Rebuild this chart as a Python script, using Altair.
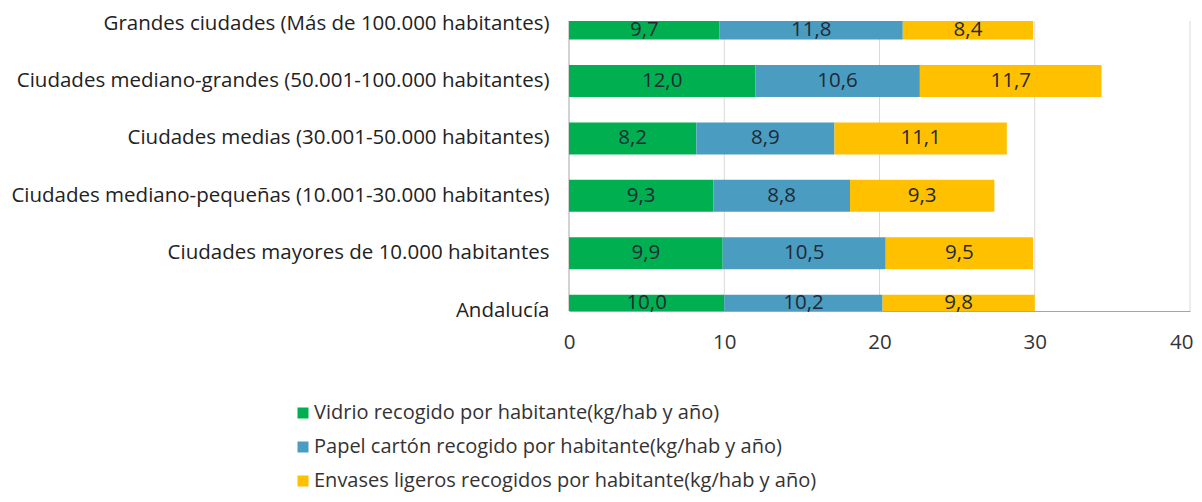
import altair as alt
import pandas as pd

categories = [
    "Grandes ciudades (Más de 100.000 habitantes)",
    "Ciudades mediano-grandes (50.001-100.000 habitantes)",
    "Ciudades medias (30.001-50.000 habitantes)",
    "Ciudades mediano-pequeñas (10.001-30.000 habitantes)",
    "Ciudades mayores de 10.000 habitantes",
    "Andalucía",
]
series = [
    "Vidrio recogido por habitante(kg/hab y año)",
    "Papel cartón recogido por habitante(kg/hab y año)",
    "Envases ligeros recogidos por habitante(kg/hab y año)",
]
vidrio = [9.7, 12.0, 8.2, 9.3, 9.9, 10.0]
papel = [11.8, 10.6, 8.9, 8.8, 10.5, 10.2]
envases = [8.4, 11.7, 11.1, 9.3, 9.5, 9.8]
colors = ["#00B050", "#4B9CC1", "#FFC000"]
x_ticks = [0, 10, 20, 30, 40]

rows = []
for s_i, (s, vals) in enumerate(zip(series, [vidrio, papel, envases])):
    for c_i, (c, v) in enumerate(zip(categories, vals)):
        rows.append({"cat": c, "ci": c_i, "serie": s, "val": v, "ord": s_i,
                     "lab": f"{v:.1f}".replace(".", ",")})
df = pd.DataFrame(rows)
grid_df = pd.DataFrame({"g": x_ticks[1:]})
zero_df = pd.DataFrame({"g": x_ticks[:1]})

FONT = "Open Sans"
FS = 20.5

xscale = alt.Scale(domain=[0, 40], nice=False)
y_enc = alt.Y(
    "cat:N", sort=categories, title=None,
    scale=alt.Scale(range=[-13.4, 305.7], paddingInner=0.443, paddingOuter=0),
    axis=alt.Axis(labelFontSize=FS, labelColor="#222222", labelFont=FONT,
                  labelPadding=20, ticks=False, domain=False, grid=False,
                  labelLimit=700),
)

last = x_ticks[-1]
grid = alt.Chart(grid_df).mark_rule(color="#d9d9d9", strokeWidth=1).encode(
    x=alt.X("g:Q", scale=xscale, title=None,
            axis=alt.Axis(values=x_ticks, labelFontSize=FS,
                          labelColor="#333333", labelFont=FONT, ticks=False,
                          labelFlush=False,
                          labelAlign=alt.condition(f"datum.value == {last}",
                                                   alt.value("right"),
                                                   alt.value("center")),
                          labelOffset=alt.condition(f"datum.value == {last}",
                                                    alt.value(3),
                                                    alt.value(0)),
                          labelPadding=21, domainColor="#a6a6a6", grid=False)),
    y=alt.value(0), y2=alt.value(290),
)
zero = alt.Chart(zero_df).mark_rule(color="#a6a6a6", strokeWidth=1).encode(
    x=alt.X("g:Q", scale=xscale), y=alt.value(0), y2=alt.value(290),
)

bars = alt.Chart(df).mark_bar(clip=True).encode(
    y=y_enc,
    x=alt.X("sum(val):Q", stack="zero", scale=xscale, title=None),
    order=alt.Order("ord:Q"),
    color=alt.Color("serie:N", sort=series,
                    scale=alt.Scale(domain=series, range=colors),
                    legend=alt.Legend(title=None, orient="none",
                                      legendX=-276, legendY=382,
                                      direction="vertical",
                                      symbolType="square", symbolSize=121,
                                      symbolStrokeWidth=0,
                                      labelFontSize=20, labelFont=FONT,
                                      labelColor="#333333",
                                      rowPadding=14, labelOffset=1,
                                      labelLimit=700)),
)

stacked = alt.Chart(df).transform_stack(
    stack="val", groupby=["cat"], as_=["x0", "x1"], sort=[alt.SortField("ord")]
).transform_calculate(
    xm="(datum.x0 + datum.x1) / 2"
)


def text_layer(flt, dy):
    return stacked.transform_filter(flt).mark_text(
        fontSize=FS, font=FONT, color="#1f2a36", dy=dy
    ).encode(
        y=alt.Y("cat:N", sort=categories),
        x=alt.X("xm:Q", scale=xscale),
        text="lab:N",
    )


t_mid = text_layer("datum.ci > 0 && datum.ci < 5", 0)
t_top = text_layer("datum.ci == 0", 6)
t_bot = text_layer("datum.ci == 5", -8)

chart = alt.layer(grid, zero, bars, t_mid, t_top, t_bot).properties(
    width=621, height=290,
    padding={"left": 561, "top": 13, "right": 4, "bottom": 183},
    autosize=alt.AutoSizeParams(type="none"),
).configure_view(stroke=None)

chart.save("out.html", embed_options={"renderer": "svg", "actions": False})
